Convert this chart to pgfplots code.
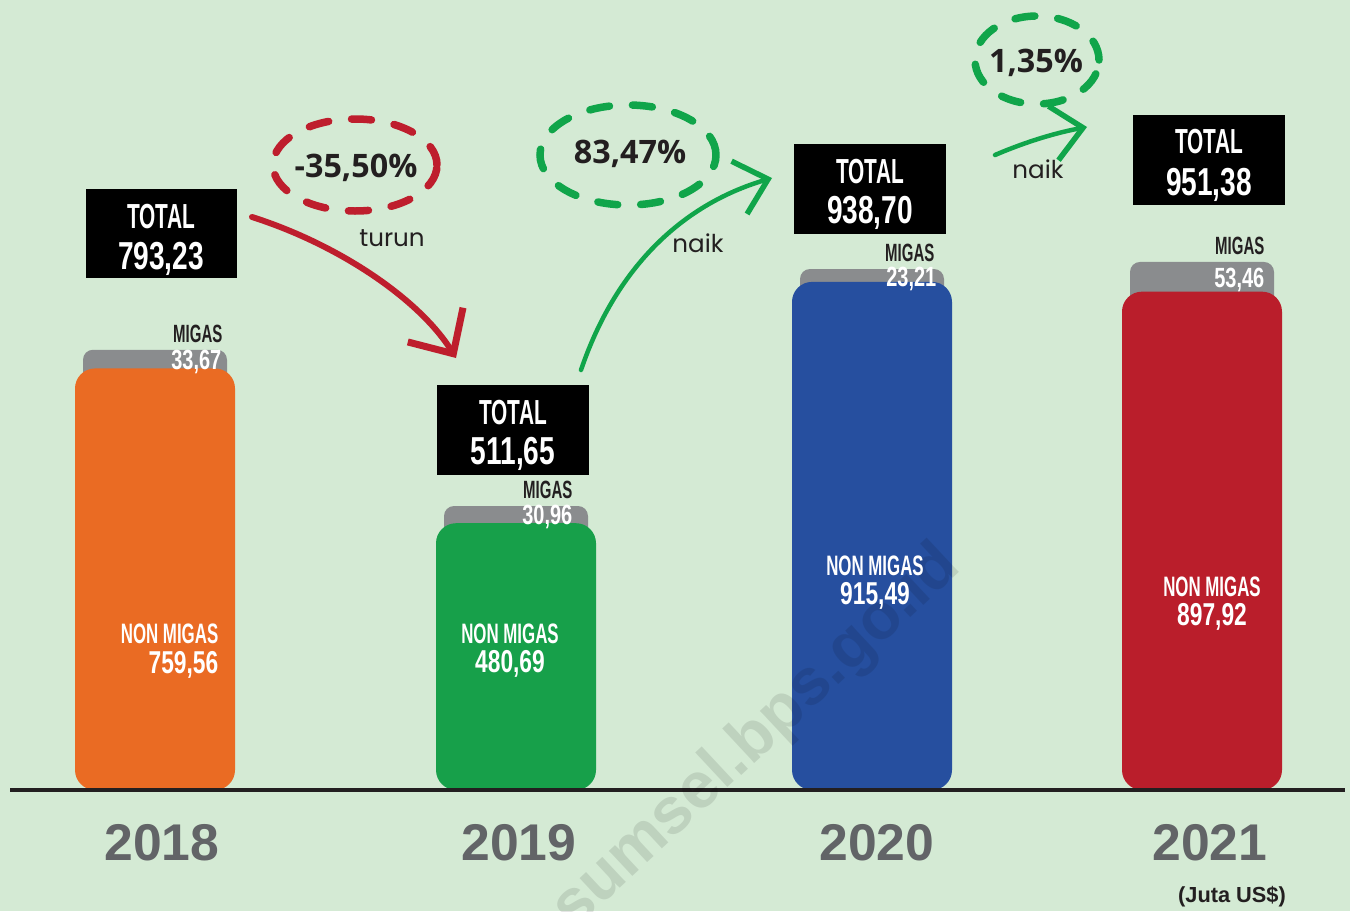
\documentclass[border=0pt]{standalone}
\usepackage{pgfplots}
\pgfplotsset{compat=1.18}
\usetikzlibrary{arrows.meta}
\usepackage{fontspec}
\setmainfont{Liberation Sans}
\newfontfamily\condL[FakeStretch=0.6]{Liberation Sans}
\newfontfamily\condN[FakeStretch=0.72]{Liberation Sans}
\newfontfamily\pctfont{Open Sans}
\newfontfamily\handfont{Poppins}
\definecolor{bg}{HTML}{D4EAD4}
\definecolor{cA}{HTML}{EA6B23}
\definecolor{cB}{HTML}{17A04A}
\definecolor{cC}{HTML}{264F9F}
\definecolor{cD}{HTML}{BA1E2B}
\definecolor{mgrey}{HTML}{8A8C8E}
\definecolor{ygrey}{HTML}{626467}
\definecolor{ink}{HTML}{231F20}
\definecolor{arrred}{HTML}{BE1E2D}
\definecolor{arrgreen}{HTML}{10A54A}
\begin{document}
\begin{tikzpicture}
\path[use as bounding box, fill=bg] (0,0) rectangle (13.5cm,9.11cm);
\begin{axis}[
  at={(0,1.21cm)}, anchor=south west,
  scale only axis, width=13.5cm, height=7.9cm,
  xmin=0, xmax=1350, ymin=0, ymax=1423.4,
  axis line style={draw=none},
  ytick=\empty,
  xtick={162,519,877,1210},
  xticklabels={2018,2019,2020,2021},
  major tick length=0pt,
  xticklabel style={anchor=center, yshift=-5.3mm, text=ygrey,
     font=\bfseries\fontsize{14.7}{16}\selectfont},
]
% total (grey = migas on top of non migas)
\addplot[ybar, bar width=144, bar shift=0, fill=mgrey, draw=none, rounded corners=1mm] coordinates {(155,793.23)};
\addplot[ybar, bar width=144, bar shift=0, fill=mgrey, draw=none, rounded corners=1mm] coordinates {(516,511.65)};
\addplot[ybar, bar width=144, bar shift=0, fill=mgrey, draw=none, rounded corners=1mm] coordinates {(872,938.70)};
\addplot[ybar, bar width=144, bar shift=0, fill=mgrey, draw=none, rounded corners=1mm] coordinates {(1202,951.38)};
% non migas
\addplot[ybar, bar width=160, bar shift=0, fill=cA, draw=none, rounded corners=2mm] coordinates {(155,759.56)};
\addplot[ybar, bar width=160, bar shift=0, fill=cB, draw=none, rounded corners=2mm] coordinates {(516,480.69)};
\addplot[ybar, bar width=160, bar shift=0, fill=cC, draw=none, rounded corners=2mm] coordinates {(872,915.49)};
\addplot[ybar, bar width=160, bar shift=0, fill=cD, draw=none, rounded corners=2mm] coordinates {(1202,897.92)};
\end{axis}
\begin{scope}[x=0.1mm, y=-0.1mm, yshift=9.11cm]
\draw[line width=0.4mm, ink] (10,790) -- (1345,790);
% watermark
\node[rotate=43, opacity=0.1, font=\bfseries\fontsize{18.5}{20}\selectfont] at (757,738) {sumsel.bps.go.id};
% TOTAL boxes
\tikzset{tl/.style={anchor=base, text=white, inner sep=0pt, font=\condL\bfseries\fontsize{9.9}{10}\selectfont},
         tv/.style={anchor=base, text=white, inner sep=0pt, font=\condN\bfseries\fontsize{11.1}{12}\selectfont},
         ml/.style={anchor=base east, text=ink, inner sep=0pt, font=\condL\bfseries\fontsize{7.1}{8}\selectfont},
         mv/.style={anchor=base east, text=white, inner sep=0pt, font=\condN\bfseries\fontsize{7.9}{8}\selectfont},
         nl/.style={anchor=base, text=white, inner sep=0pt, font=\condL\bfseries\fontsize{8}{9}\selectfont},
         nv/.style={anchor=base, text=white, inner sep=0pt, font=\condN\bfseries\fontsize{9}{10}\selectfont},
         pc/.style={anchor=base, text=ink, inner sep=0pt, font=\pctfont\bfseries\fontsize{9.2}{10}\selectfont},
         hw/.style={anchor=base, text=ink, inner sep=0pt, font=\handfont\fontsize{7}{8}\selectfont}}
\fill[black] (86,189) rectangle (237,278);
\node[tl] at (161,228) {TOTAL};
\node[tv] at (161,269) {793,23};
\fill[black] (437,385) rectangle (589,475);
\node[tl] at (513,424) {TOTAL};
\node[tv] at (513,464) {511,65};
\fill[black] (794,144) rectangle (946,234);
\node[tl] at (870,183.5) {TOTAL};
\node[tv] at (870,223) {938,70};
\fill[black] (1133,115) rectangle (1285,205);
\node[tl] at (1209,153.5) {TOTAL};
\node[tv] at (1209,195) {951,38};
% MIGAS
\node[ml] at (223,342.5) {MIGAS};
\node[mv] at (222,369) {33,67};
\node[ml] at (573,498) {MIGAS};
\node[mv] at (573,524) {30,96};
\node[ml] at (935,261) {MIGAS};
\node[mv] at (937,286) {23,21};
\node[ml] at (1265,254) {MIGAS};
\node[mv] at (1265,287) {53,46};
% NON MIGAS
\node[nl, anchor=base east] at (219,643) {NON MIGAS};
\node[nv, anchor=base east] at (219,673) {759,56};
\node[nl] at (510,643) {NON MIGAS};
\node[nv] at (510,672) {480,69};
\node[nl] at (875,575) {NON MIGAS};
\node[nv] at (875,604) {915,49};
\node[nl] at (1212,596) {NON MIGAS};
\node[nv] at (1212,625) {897,92};
% percentages
\draw[arrred, line width=0.75mm, line cap=round, dash pattern=on 2mm off 2.3mm] (355,165) ellipse [x radius=8.2mm, y radius=4.6mm];
\node[pc] at (356,177.5) {-35,50\%};
\draw[arrgreen, line width=0.75mm, line cap=round, dash pattern=on 2mm off 2.3mm] (628,155) ellipse [x radius=8.8mm, y radius=5mm];
\node[pc] at (630,163.5) {83,47\%};
\draw[arrgreen, line width=0.75mm, line cap=round, dash pattern=on 2mm off 2.3mm] (1037,60) ellipse [x radius=6.2mm, y radius=4.4mm];
\node[pc] at (1036,72.5) {1,35\%};
% arrows
\draw[arrred, line width=0.6mm, line cap=round, -{Straight Barb[length=3.4mm, width=6.5mm, line width=0.7mm]}] (252,217) .. controls (340,245) and (420,300) .. (456,358);
\node[hw] at (392,246) {turun};
\draw[arrgreen, line width=0.45mm, line cap=round, -{Straight Barb[length=3mm, width=5.5mm, line width=0.55mm]}] (581,370) .. controls (615,270) and (680,205) .. (772,178);
\node[hw] at (698,252) {naik};
\draw[arrgreen, line width=0.45mm, line cap=round, -{Straight Barb[length=3mm, width=5.5mm, line width=0.55mm]}] (995,155) .. controls (1030,140) and (1060,132) .. (1087,127);
\node[hw] at (1038,178) {naik};
% unit
\node[text=ink, font=\bfseries\fontsize{6.2}{7}\selectfont] at (1232,897) {(Juta US\$)};
\end{scope}
\end{tikzpicture}
\end{document}
